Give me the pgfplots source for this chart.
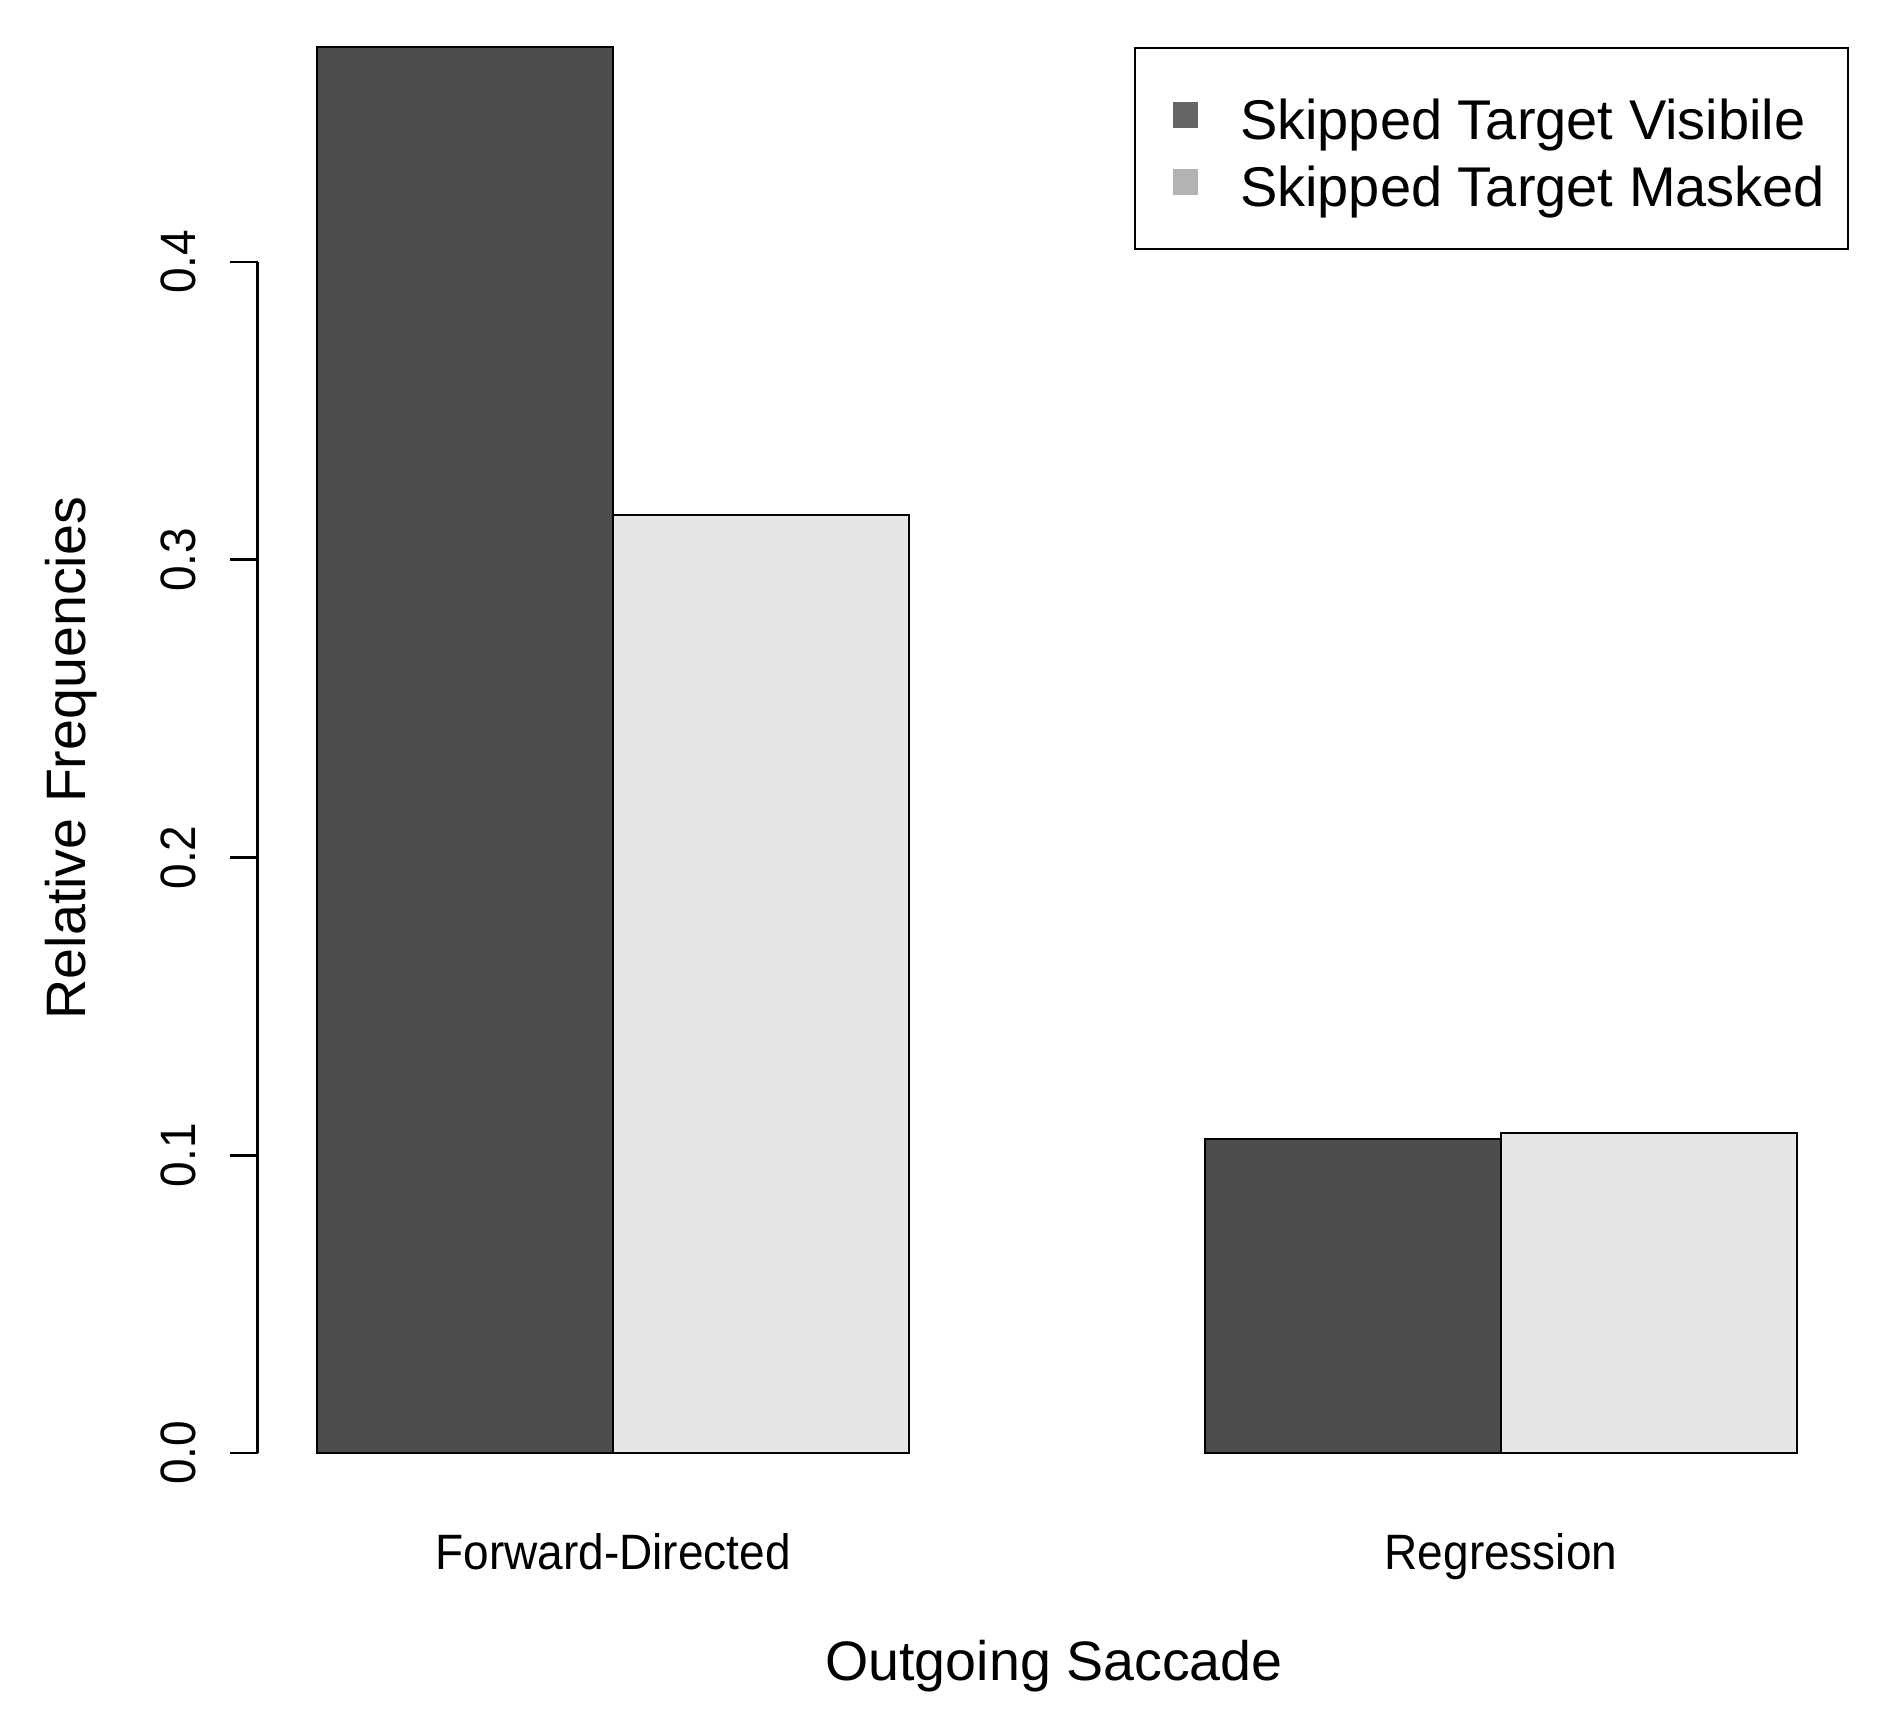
\documentclass[border=0pt]{standalone}
\usepackage{pgfplots}
\pgfplotsset{compat=1.18}
\usepackage{fontspec}
\setmainfont{Liberation Sans}
\definecolor{bardark}{HTML}{4D4D4D}
\definecolor{barlight}{HTML}{E6E6E6}
\definecolor{legdark}{HTML}{666666}
\definecolor{leglight}{HTML}{B3B3B3}
\newcommand\tl[1]{\scalebox{1}[1.08]{#1}}
\begin{document}
\begin{tikzpicture}
\begin{axis}[
  x=74pt, y=744.375pt,
  xmin=0.8, xmax=6.2, ymin=-0.01889, ymax=0.49111,
  clip=false,
  axis x line*=bottom, axis y line*=left,
  x axis line style={draw=none}, y axis line style={draw=none},
  xtick={2,5}, xticklabels={\tl{Forward-Directed},\tl{Regression}},
  xtick style={draw=none},
  ytick={0,0.1,0.2,0.3,0.4},
  yticklabels={\tl{0.0},\tl{0.1},\tl{0.2},\tl{0.3},\tl{0.4}},
  ytick style={line width=0.65pt, black},
  tick align=outside, major tick length=7pt,
  ticklabel style={font=\fontsize{11.5}{13}\selectfont},
  xticklabel style={anchor=base, yshift=-8pt},
  yticklabel style={xshift=-8.5pt, rotate=90, anchor=base},
  every axis x label/.style={at={(axis cs:3.49,-0.07624)}, anchor=base, font=\fontsize{13.9}{16}\selectfont},
  every axis y label/.style={at={(axis cs:0.2196,0.2334)}, rotate=90, anchor=base, font=\fontsize{13.9}{16}\selectfont},
  xlabel={Outgoing Saccade}, ylabel={Relative Frequencies},
  legend style={at={(axis cs:6.1757,0.47221)}, anchor=north east, draw=black, line width=0.6pt,
    inner xsep=5.65pt, inner ysep=8.375pt, row sep=0pt, column sep=10.5pt,
    font=\fontsize{14}{16}\selectfont,
    cells={anchor=base west},
    nodes={inner sep=0pt, anchor=base west, text height=14.375pt, text depth=2.375pt}},
  legend image code/.code={\path (-3.85pt,0pt); \fill[#1] (0pt,2.75pt) rectangle (6.25pt,9.25pt);},
]
\addplot[ybar, bar width=1, bar shift=0pt, fill=bardark, draw=black, line width=0.65pt, forget plot]
  coordinates {(1.5,0.4722) (4.5,0.1054)};
\addplot[ybar, bar width=1, bar shift=0pt, fill=barlight, draw=black, line width=0.65pt, forget plot]
  coordinates {(2.5,0.3150) (5.5,0.1075)};
\addlegendimage{fill=legdark, draw=none}
\addlegendentry{Skipped Target Visibile}
\addlegendimage{fill=leglight, draw=none}
\addlegendentry{Skipped Target Masked}
\draw[line width=0.65pt] (axis cs:0.8,0) -- (axis cs:0.8,0.4);
\coordinate (BL) at (axis cs:-0.07095,-0.08799);
\coordinate (TR) at (axis cs:6.33446,0.48800);
\end{axis}
\pgfresetboundingbox
\path[use as bounding box] (BL) rectangle (TR);
\end{tikzpicture}
\end{document}
